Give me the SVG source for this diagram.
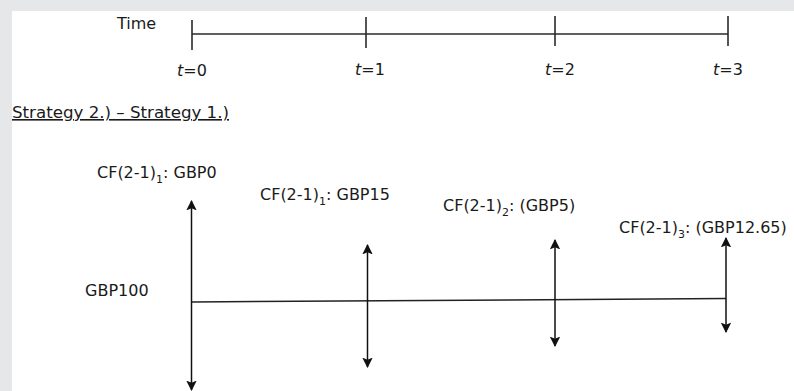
<svg xmlns="http://www.w3.org/2000/svg" width="794" height="391" viewBox="0 0 794 391">
<style>
text{font-family:"DejaVu Sans","Liberation Sans",sans-serif;font-size:16px;fill:#1a1a1a}
.sub{font-size:11px}
.ax{stroke:#2a2a2a;stroke-width:1.6;fill:none}
.cf{stroke:#111;stroke-width:1.5;fill:none;marker-start:url(#ah);marker-end:url(#ah)}
.base{stroke:#222;stroke-width:1.5;fill:none}
</style>
<defs>
<marker id="ah" viewBox="0 0 10 10" refX="9" refY="5" markerWidth="7" markerHeight="7" orient="auto-start-reverse" markerUnits="strokeWidth">
<path d="M0,0 L10,5 L0,10 L2,5 Z" fill="#111"/>
</marker>
</defs>
<rect x="0" y="0" width="794" height="391" fill="#e6e7e9"/>
<rect x="12" y="11" width="782" height="380" fill="#ffffff"/>
<g id="timeline">
<text x="117" y="29">Time</text>
<line class="ax" x1="192" y1="34" x2="728" y2="34"/>
<line class="ax" x1="192" y1="20" x2="192" y2="50"/>
<line class="ax" x1="366" y1="17" x2="366" y2="48"/>
<line class="ax" x1="555" y1="16" x2="555" y2="46"/>
<line class="ax" x1="728" y1="16" x2="728" y2="46"/>
<text x="177" y="76"><tspan font-style="italic">t</tspan>=0</text>
<text x="355" y="75"><tspan font-style="italic">t</tspan>=1</text>
<text x="545" y="75"><tspan font-style="italic">t</tspan>=2</text>
<text x="713" y="75"><tspan font-style="italic">t</tspan>=3</text>
</g>
<g id="title">
<text x="12" y="118" text-decoration="underline" textLength="217" lengthAdjust="spacingAndGlyphs">Strategy 2.) – Strategy 1.)</text>
</g>
<g id="connectors">
<line class="base" x1="192" y1="302" x2="726" y2="298.5"/>
<line class="cf" x1="191.5" y1="201" x2="191.5" y2="390"/>
<line class="cf" x1="367.5" y1="245" x2="367.5" y2="367"/>
<line class="cf" x1="555" y1="240" x2="555" y2="346"/>
<line class="cf" x1="726" y1="238" x2="726" y2="332"/>
</g>
<g id="cf0">
<text x="97" y="178">CF(2-1)<tspan class="sub" dy="5">1</tspan><tspan dy="-5">: GBP0</tspan></text>
</g>
<g id="cf1">
<text x="260" y="200">CF(2-1)<tspan class="sub" dy="5">1</tspan><tspan dy="-5">: GBP15</tspan></text>
</g>
<g id="cf2">
<text x="443" y="211">CF(2-1)<tspan class="sub" dy="5">2</tspan><tspan dy="-5">: (GBP5)</tspan></text>
</g>
<g id="cf3">
<text x="619" y="233">CF(2-1)<tspan class="sub" dy="5">3</tspan><tspan dy="-5">: (GBP12.65)</tspan></text>
</g>
<g id="gbp100">
<text x="85" y="296">GBP100</text>
</g>
</svg>
